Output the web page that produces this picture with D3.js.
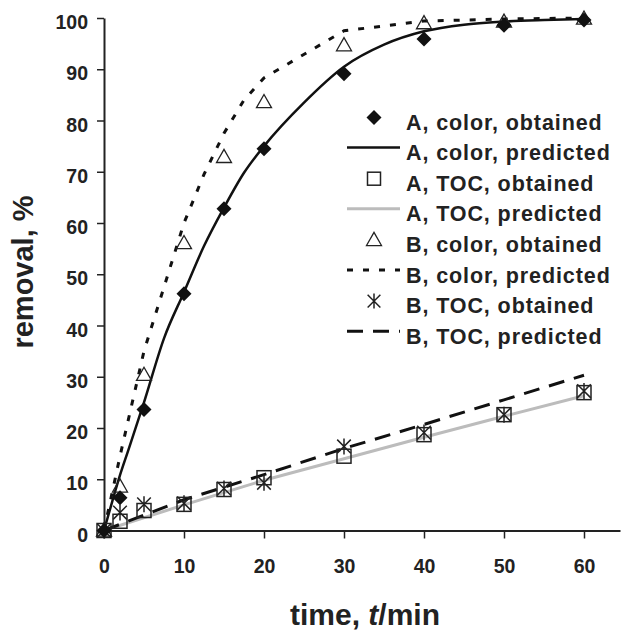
<!DOCTYPE html>
<html>
<head>
<meta charset="utf-8">
<script src="https://cdn.jsdelivr.net/npm/d3@7"></script>
<style>
  body { margin: 0; background: #fff; }
  text { font-family: "Liberation Sans", Arial, sans-serif; font-weight: bold; fill: #222; }
</style>
</head>
<body>
<div id="chart"></div>
<script>
// observed times (min)
const timeObs = [0, 2, 5, 10, 15, 20, 30, 40, 50, 60];
const aColorObs = [0, 6.4, 23.6, 46.2, 62.8, 74.5, 89.1, 95.9, 98.6, 99.6];
const aTocObs = [0, 1.8, 3.9, 5.1, 8.0, 10.3, 14.5, 18.7, 22.6, 26.9];
const bColorObs = [0, 8.6, 30.4, 56.1, 72.9, 83.6, 94.7, 99.0, 99.3, 99.9];
const bTocObs = [0, 3.5, 5.1, 5.3, 8.2, 9.3, 16.4, 19.1, 22.6, 27.2];

// predicted curves
const aColorPredT = [0, 1, 2, 3, 5, 7.5, 10, 12.5, 15, 17.5, 20, 25, 30, 35, 40, 45, 50, 55, 60];
const aColorPred = [0, 5.5, 10.8, 15.5, 25, 37.5, 46.5, 55.5, 63, 69.8, 75, 83.5, 90.5, 94.8, 97.4, 98.7, 99.3, 99.6, 99.8];
const bColorPredT = [0, 2, 5, 10, 12.5, 15, 17.5, 20, 30, 40, 50, 60];
const bColorPred = [0, 14.5, 35, 60, 69.5, 77.5, 84, 88.3, 97.5, 99.4, 99.8, 100];
const tocPredT = [0, 10, 20, 30, 40, 50, 60];
const aTocPred = [0, 5, 9.8, 14, 18.2, 22.3, 26.3];
const bTocPred = [0, 6, 10.9, 16, 20.7, 25.5, 30.3];

const xTicks = [0, 10, 20, 30, 40, 50, 60];
const yTicks = [0, 10, 20, 30, 40, 50, 60, 70, 80, 90, 100];

const legendLabels = [
  "A, color, obtained", "A, color, predicted",
  "A, TOC, obtained", "A, TOC, predicted",
  "B, color, obtained", "B, color, predicted",
  "B, TOC, obtained", "B, TOC, predicted"
];

const W = 623, H = 630;
const margin = {top: 18, right: 0, bottom: 99, left: 104};

const svg = d3.select("#chart").append("svg")
  .attr("width", W).attr("height", H);

const x = d3.scaleLinear().domain([0, 64.5]).range([margin.left, margin.left + 516]);
const y = d3.scaleLinear().domain([0, 100]).range([H - margin.bottom - 0.5, margin.top]);

// axes
const xAxis = svg.append("g")
  .attr("transform", `translate(0,${y(0)})`)
  .call(d3.axisBottom(x).tickValues(xTicks).tickSize(8).tickPadding(21).tickSizeOuter(0));
const yAxis = svg.append("g")
  .attr("transform", `translate(${x(0)},0)`)
  .call(d3.axisLeft(y).tickValues(yTicks).tickSize(7).tickPadding(9).tickSizeOuter(0));

[xAxis, yAxis].forEach(g => {
  g.select(".domain").attr("stroke", "#222").attr("stroke-width", 2);
  g.selectAll(".tick line").attr("stroke", "#222").attr("stroke-width", 1.5);
  g.selectAll(".tick text").style("font-size", "19.5px").attr("fill", "#222");
});
yAxis.selectAll(".tick text").attr("dy", "0.54em");

svg.append("text")
  .attr("x", 365).attr("y", 625)
  .attr("text-anchor", "middle")
  .style("font-size", "30px")
  .html('time, <tspan font-style="italic">t</tspan>/min');

svg.append("text")
  .attr("transform", "translate(33,272) rotate(-90)")
  .attr("text-anchor", "middle")
  .style("font-size", "29px")
  .text("removal, %");

// line styles
const styles = {
  aColor: {stroke: "#111", width: 2.5, dash: null, curve: d3.curveMonotoneX},
  aToc: {stroke: "#bcbcbc", width: 3, dash: null, curve: d3.curveLinear},
  bColor: {stroke: "#111", width: 3, dash: "6,10", curve: d3.curveLinear},
  bToc: {stroke: "#111", width: 3, dash: "16,10", curve: d3.curveLinear}
};

function drawLine(ts, vs, st) {
  const line = d3.line().x(d => x(d[0])).y(d => y(d[1])).curve(st.curve);
  svg.append("path")
    .datum(ts.map((t, i) => [t, vs[i]]))
    .attr("fill", "none")
    .attr("stroke", st.stroke)
    .attr("stroke-width", st.width)
    .attr("stroke-dasharray", st.dash)
    .attr("d", line);
}

drawLine(tocPredT, aTocPred, styles.aToc);
drawLine(tocPredT, bTocPred, styles.bToc);
drawLine(bColorPredT, bColorPred, styles.bColor);
drawLine(aColorPredT, aColorPred, styles.aColor);

// markers
function marker(g, kind, cx, cy, s) {
  if (kind === "diamond") {
    g.append("path").attr("d", `M${cx},${cy - s}L${cx + s},${cy}L${cx},${cy + s}L${cx - s},${cy}Z`)
      .attr("fill", "#111");
  } else if (kind === "square") {
    g.append("rect").attr("x", cx - s).attr("y", cy - s).attr("width", 2 * s).attr("height", 2 * s)
      .attr("fill", "none").attr("stroke", "#222").attr("stroke-width", 1.5);
  } else if (kind === "triangle") {
    g.append("path").attr("d", `M${cx},${cy - s}L${cx + s},${cy + s * 0.75}L${cx - s},${cy + s * 0.75}Z`)
      .attr("fill", "none").attr("stroke", "#222").attr("stroke-width", 1.3);
  } else if (kind === "star") {
    const a = s * 0.85;
    g.append("path")
      .attr("d", `M${cx - a},${cy - a}L${cx + a},${cy + a}M${cx - a},${cy + a}L${cx + a},${cy - a}M${cx},${cy - s}L${cx},${cy + s}`)
      .attr("fill", "none").attr("stroke", "#222").attr("stroke-width", 1.5);
  }
}

const pts = svg.append("g");
timeObs.forEach((t, i) => marker(pts, "square", x(t), y(aTocObs[i]), 7));
timeObs.forEach((t, i) => marker(pts, "star", x(t), y(bTocObs[i]), 8));
timeObs.forEach((t, i) => marker(pts, "triangle", x(t), y(bColorObs[i]), 7.5));
timeObs.forEach((t, i) => marker(pts, "diamond", x(t), y(aColorObs[i]), 7.5));

// legend
const legend = svg.append("g");
const rowY = i => 122 + i * 30.6;   // text centre of each row
const legendKeys = [
  {m: "diamond"}, {l: styles.aColor},
  {m: "square"}, {l: styles.aToc},
  {m: "triangle"}, {l: styles.bColor},
  {m: "star"}, {l: styles.bToc}
];
legendKeys.forEach((k, i) => {
  const cy = rowY(i);
  if (k.m) {
    marker(legend, k.m, 374, cy - 4.5, k.m === "square" ? 6.5 : 7.5);
  } else {
    legend.append("line")
      .attr("x1", 347).attr("x2", 400).attr("y1", cy - 5).attr("y2", cy - 5)
      .attr("stroke", k.l.stroke).attr("stroke-width", k.l.width)
      .attr("stroke-dasharray", k.l.dash);
  }
  legend.append("text")
    .attr("x", 406).attr("y", cy + 7.5)
    .style("font-size", "21.5px")
    .style("letter-spacing", "0.9px")
    .text(legendLabels[i]);
});
</script>
</body>
</html>
